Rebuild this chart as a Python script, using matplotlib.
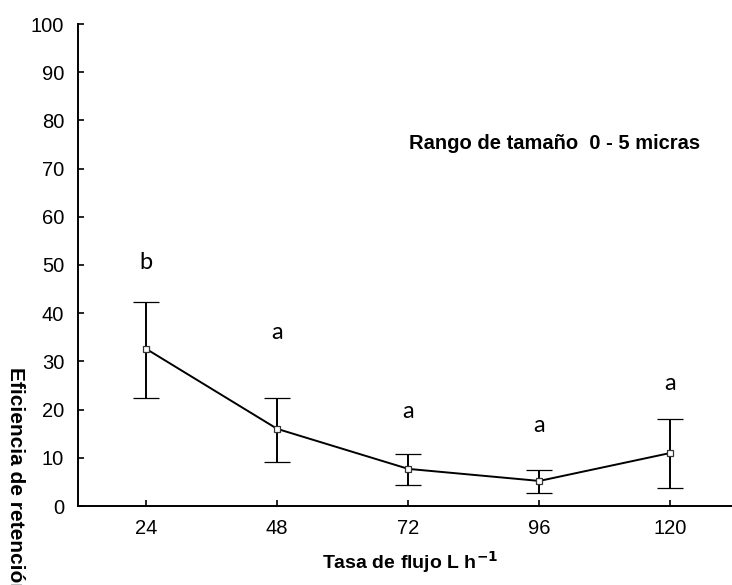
import matplotlib
matplotlib.use("Agg")
import matplotlib.pyplot as plt

# flow rates (L/h) and retention efficiency (%)
flow = ["24", "48", "72", "96", "120"]
mean = [32.6, 16.0, 7.7, 5.2, 11.0]
upper = [42.3, 22.4, 10.8, 7.5, 18.0]
lower = [22.4, 9.1, 4.4, 2.7, 3.7]
letters = ["b", "a", "a", "a", "a"]
letter_y = [50.6, 35.9, 19.7, 16.6, 25.5]

plt.rcParams["font.family"] = ["Liberation Sans", "DejaVu Sans"]

fig = plt.figure(figsize=(7.32, 5.85), dpi=100)
ax = fig.add_axes([78 / 732, 79 / 585, 1 - 78 / 732, 482 / 585])

x = list(range(len(flow)))
err_lo = [m - l for m, l in zip(mean, lower)]
err_hi = [u - m for m, u in zip(mean, upper)]

ax.errorbar(x, mean, yerr=[err_lo, err_hi], color="black", lw=1.4,
            elinewidth=1.4, capsize=9.5, capthick=1.4,
            marker="s", markersize=5, markerfacecolor="white",
            markeredgecolor="#333333", markeredgewidth=0.9, zorder=3)

for xi, lab, ly in zip(x, letters, letter_y):
    ax.text(xi, ly, lab, ha="center", va="center", fontsize=17,
            family=["Lato", "DejaVu Sans"])

ax.text(0.728, 0.753, "Rango de tamaño  0 - 5 micras", transform=ax.transAxes,
        ha="center", va="center", fontsize=14.5, fontweight="bold")

ax.set_xlim(-0.52, 4.47)
ax.set_ylim(0, 100)
ax.set_xticks(x)
ax.set_xticklabels(flow)
ax.set_yticks(range(0, 101, 10))
ax.tick_params(direction="in", length=4, width=1.2, labelsize=14.5, pad=10)
ax.tick_params(axis="x", pad=9)

for s in ["top", "right"]:
    ax.spines[s].set_visible(False)
for s in ["left", "bottom"]:
    ax.spines[s].set_linewidth(1.4)

fig.text(410 / 732, 1 - 562 / 585, r"Tasa de flujo L h$^{\mathbf{-1}}$",
         ha="center", va="center", fontsize=14, fontweight="bold")
# the label runs off the bottom edge, as in the original figure
fig.text(15 / 732, 1 - 367 / 585, "Eficiencia de retención (%)",
         rotation=-90, ha="center", va="top", fontsize=15, fontweight="bold")

fig.savefig("out.png", dpi=100)
